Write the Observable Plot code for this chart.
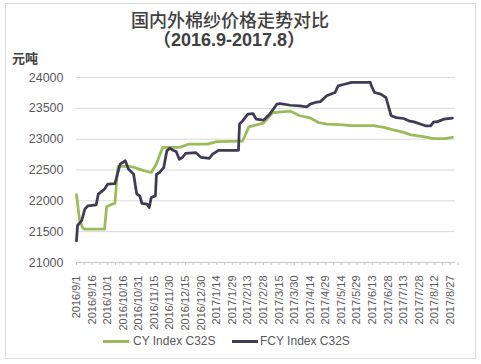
<!DOCTYPE html>
<html><head><meta charset="utf-8">
<script src="https://cdn.jsdelivr.net/npm/d3@7"></script>
<script src="https://cdn.jsdelivr.net/npm/@observablehq/plot@0.6"></script>
<style>
body{margin:0;background:#fff;}
#wrap{position:relative;width:481px;height:364px;overflow:hidden;font-family:"Liberation Sans",Arial,sans-serif;background:#fff;}
#frame{position:absolute;left:5px;top:3px;width:471px;height:356px;border:1px solid #d9d9d9;box-sizing:border-box;}
#chart{position:absolute;left:0;top:0;}
.t1{position:absolute;left:0;width:460px;text-align:center;top:9px;line-height:20px;font-family:"Noto Sans CJK SC",sans-serif;font-weight:500;font-size:18px;color:#404040;}
.t2{position:absolute;left:0;width:458px;text-align:center;top:30px;line-height:20px;font-family:"Liberation Sans","Noto Sans CJK SC",sans-serif;font-weight:bold;font-size:18px;color:#404040;}
.unit{position:absolute;left:12px;top:50px;line-height:16px;font-family:"Noto Sans CJK SC",sans-serif;font-weight:bold;font-size:13px;color:#404040;}
.lg{position:absolute;top:334px;line-height:14px;font-size:12px;color:#595959;}
.sw{position:absolute;top:340px;width:26px;height:2.5px;}
</style></head>
<body>
<div id="wrap">
  <div id="frame"></div>
  <div id="chart"></div>
  <div class="t1">国内外棉纱价格走势对比</div>
  <div class="t2">（2016.9-2017.8）</div>
  <div class="unit">元吨</div>
  <div class="sw" style="left:103px;background:#9bbb59"></div>
  <div class="lg" style="left:133px">CY Index C32S</div>
  <div class="sw" style="left:232px;background:#3f3b55"></div>
  <div class="lg" style="left:260px">FCY Index C32S</div>
</div>
<script>
const seriesNames = ["CY Index C32S", "FCY Index C32S"];
const cyDates = ["2016-09-01","2016-09-04","2016-09-07","2016-09-09","2016-09-28","2016-09-30","2016-10-03","2016-10-08","2016-10-10","2016-10-11","2016-10-22","2016-10-27","2016-11-01","2016-11-07","2016-11-12","2016-11-17","2016-11-23","2016-12-09","2016-12-18","2017-01-05","2017-01-14","2017-02-08","2017-02-14","2017-02-28","2017-03-09","2017-03-26","2017-04-04","2017-04-14","2017-04-22","2017-04-30","2017-05-13","2017-05-23","2017-06-14","2017-06-24","2017-07-03","2017-07-13","2017-07-20","2017-08-01","2017-08-11","2017-08-22","2017-08-29"];
const cyValues = [22100,21680,21560,21540,21540,21900,21930,21960,22400,22560,22560,22540,22510,22480,22460,22600,22865,22865,22920,22920,22960,22970,23200,23260,23430,23455,23380,23345,23270,23245,23235,23220,23220,23190,23150,23110,23070,23040,23010,23010,23030];
const fcyDates = ["2016-09-01","2016-09-02","2016-09-06","2016-09-09","2016-09-12","2016-09-20","2016-09-22","2016-09-28","2016-10-01","2016-10-08","2016-10-10","2016-10-13","2016-10-18","2016-10-21","2016-10-26","2016-10-29","2016-11-01","2016-11-03","2016-11-08","2016-11-10","2016-11-12","2016-11-16","2016-11-17","2016-11-20","2016-11-24","2016-11-27","2016-11-30","2016-12-03","2016-12-06","2016-12-09","2016-12-12","2016-12-15","2016-12-25","2016-12-30","2017-01-07","2017-01-10","2017-01-16","2017-02-04","2017-02-05","2017-02-08","2017-02-13","2017-02-18","2017-02-21","2017-02-28","2017-03-06","2017-03-13","2017-03-16","2017-03-26","2017-04-04","2017-04-11","2017-04-14","2017-04-19","2017-04-24","2017-04-30","2017-05-08","2017-05-11","2017-05-17","2017-05-24","2017-06-11","2017-06-12","2017-06-15","2017-06-21","2017-06-26","2017-07-01","2017-07-06","2017-07-13","2017-07-18","2017-07-23","2017-07-29","2017-08-03","2017-08-08","2017-08-11","2017-08-14","2017-08-21","2017-08-29"];
const fcyValues = [21350,21600,21680,21865,21920,21935,22110,22190,22270,22280,22405,22595,22650,22515,22430,22110,22080,21957,21945,21890,22055,22080,22430,22460,22540,22810,22855,22820,22800,22675,22703,22768,22780,22703,22690,22757,22820,22820,23245,23297,23405,23416,23325,23308,23405,23568,23578,23550,23540,23525,23568,23595,23610,23703,23757,23865,23890,23920,23920,23865,23757,23730,23676,23380,23350,23335,23297,23280,23245,23217,23217,23280,23280,23325,23340];
const xTickLabels = ["2016/9/1","2016/9/16","2016/10/1","2016/10/16","2016/10/31","2016/11/15","2016/11/30","2016/12/15","2016/12/30","2017/1/14","2017/1/29","2017/2/13","2017/2/28","2017/3/15","2017/3/30","2017/4/14","2017/4/29","2017/5/14","2017/5/29","2017/6/13","2017/6/28","2017/7/13","2017/7/28","2017/8/12","2017/8/27"];
const yTicks = [21000,21500,22000,22500,23000,23500,24000];

const parseSlash = s => { const [y,m,d] = s.split("/").map(Number); return new Date(Date.UTC(y, m-1, d)); };
const parseIso = s => new Date(s + "T00:00:00Z");
const fmt = d => `${d.getUTCFullYear()}/${d.getUTCMonth()+1}/${d.getUTCDate()}`;
const tickDates = xTickLabels.map(parseSlash);
const minorTicks = [];
tickDates.forEach((d,i) => { minorTicks.push(d); minorTicks.push(new Date(+d + 7.5*864e5)); });

const cy = cyDates.map((d,i) => ({date: parseIso(d), value: cyValues[i], series: seriesNames[0]}));
const fcy = fcyDates.map((d,i) => ({date: parseIso(d), value: fcyValues[i], series: seriesNames[1]}));

const chart = Plot.plot({
  width: 481, height: 364,
  marginLeft: 76, marginRight: 26, marginTop: 77, marginBottom: 102,
  style: {fontFamily: '"Liberation Sans", Arial, sans-serif', background: "transparent", overflow: "visible"},
  x: {type: "utc", domain: [parseIso("2016-09-01"), parseIso("2017-09-01")], label: null},
  y: {domain: [21000, 24000], label: null},
  marks: [
    Plot.ruleY(yTicks.filter(v => v > 21000), {stroke: "#d9d9d9", strokeWidth: 1}),
    Plot.ruleY([21000], {stroke: "#c8c8c8", strokeWidth: 1}),
    Plot.axisX(minorTicks, {tickSize: 3, tickFormat: () => "", stroke: "#c8c8c8", label: null}),
    Plot.axisX(tickDates, {tickSize: 0, tickPadding: 13, tickRotate: -90, tickFormat: fmt, fontSize: 11, fill: "#595959", label: null}),
    Plot.axisY(yTicks, {tickSize: 0, tickPadding: 13, tickFormat: d => String(d), fontSize: 12.5, fill: "#595959", label: null}),
    Plot.line(cy, {x: "date", y: "value", stroke: "#9bbb59", strokeWidth: 2.75, strokeLinejoin: "round"}),
    Plot.line(fcy, {x: "date", y: "value", stroke: "#3f3b55", strokeWidth: 2.75, strokeLinejoin: "round"})
  ]
});
document.getElementById("chart").appendChild(chart);
</script>
</body></html>
